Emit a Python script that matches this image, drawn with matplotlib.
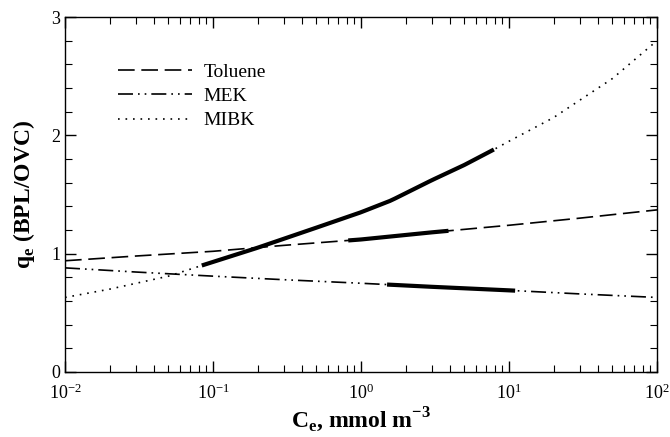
import numpy as np
import matplotlib
matplotlib.use('Agg')
from matplotlib import pyplot as plt
from matplotlib.ticker import MultipleLocator, LogLocator, NullFormatter

# model curves (thin)
tol_x = [0.01, 0.03, 0.1, 0.3, 1, 3, 10, 30, 100]
tol_q = [0.94, 0.98, 1.02, 1.07, 1.12, 1.18, 1.24, 1.30, 1.37]
mek_x = [0.01, 0.03, 0.1, 0.3, 1, 3, 10, 30, 100]
mek_q = [0.88, 0.845, 0.81, 0.78, 0.75, 0.72, 0.69, 0.66, 0.63]
mibk_x = [0.01, 0.02, 0.05, 0.084, 0.2, 0.5, 1, 1.6, 3, 5, 7.9, 10, 20, 50, 100]
mibk_q = [0.63, 0.70, 0.81, 0.90, 1.05, 1.22, 1.35, 1.45, 1.62, 1.75, 1.88, 1.95, 2.15, 2.48, 2.80]

# measured ranges (thick)
tol_rng = (0.82, 3.9)
mek_rng = (1.5, 11)
mibk_rng = (0.084, 7.9)

plt.rcParams['font.family'] = ['Liberation Serif', 'DejaVu Serif']
plt.rcParams['mathtext.fontset'] = 'custom'
plt.rcParams['mathtext.rm'] = 'Liberation Serif'
plt.rcParams['mathtext.bf'] = 'Liberation Serif:bold'

fig = plt.figure(figsize=(6.7, 4.37), dpi=100)
ax = fig.add_axes([65/670, 1 - 372/437, 592/670, 355/437])


def thick(xs, qs, rng):
    lx = np.log10(xs)
    xx = np.logspace(np.log10(rng[0]), np.log10(rng[1]), 60)
    yy = np.interp(np.log10(xx), lx, qs)
    ax.plot(xx, yy, color='black', lw=3.0, solid_capstyle='butt')


ax.plot(tol_x, tol_q, color='black', lw=1.2, dashes=(10, 4), label='Toluene')
ax.plot(mek_x, mek_q, color='black', lw=1.2, dashes=(9, 3, 1, 3, 1, 3), label='MEK')
ax.plot(mibk_x, mibk_q, color='black', lw=1.2, dashes=(1, 3.5), label='MIBK')
thick(tol_x, tol_q, tol_rng)
thick(mek_x, mek_q, mek_rng)
thick(mibk_x, mibk_q, mibk_rng)

ax.set_xscale('log')
ax.set_xlim(0.01, 100)
ax.set_ylim(0, 3)
ax.yaxis.set_major_locator(MultipleLocator(1))
ax.yaxis.set_minor_locator(MultipleLocator(0.2))
ax.xaxis.set_major_locator(LogLocator(base=10, numticks=10))
ax.xaxis.set_minor_locator(LogLocator(base=10, subs=np.arange(2, 10), numticks=10))
ax.xaxis.set_minor_formatter(NullFormatter())
ax.tick_params(which='both', direction='in', top=True, right=True, labelsize=13, color='black')
ax.tick_params(which='major', length=8, width=1)
ax.tick_params(which='minor', length=5, width=0.8)
ax.tick_params(axis='x', pad=8)
for s in ax.spines.values():
    s.set_linewidth(1)

ax.set_xlabel(r'C$_\mathbf{e}$, mmol m$^\mathbf{-3}$', fontsize=17, fontweight='bold', labelpad=2)
ax.set_ylabel(r'q$_\mathbf{e}$ (BPL/OVC)', fontsize=17, fontweight='bold', labelpad=10)

ax.legend(loc='upper left', bbox_to_anchor=(0.06, 0.92), frameon=False, fontsize=14,
          handlelength=3.8, handletextpad=0.6, labelspacing=0.35)

fig.savefig('out.png', dpi=100)
